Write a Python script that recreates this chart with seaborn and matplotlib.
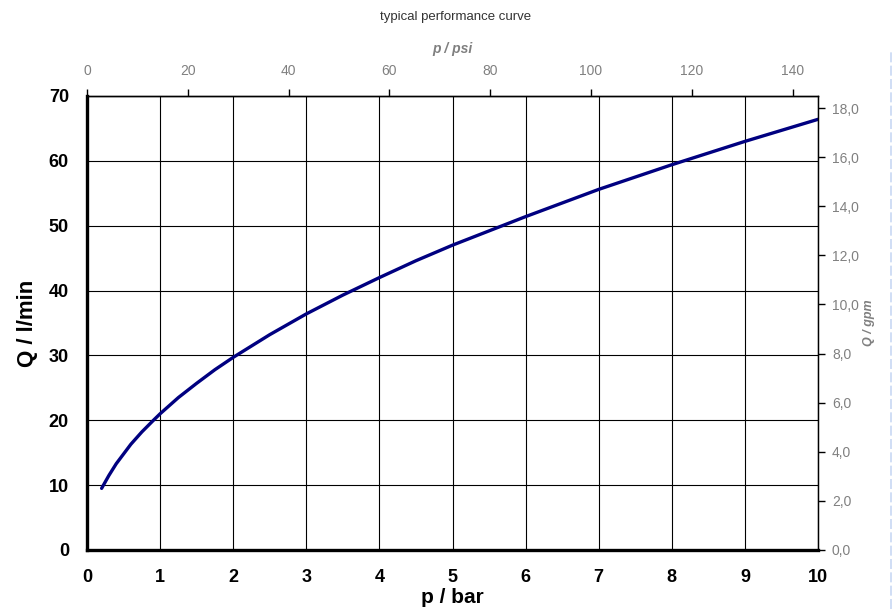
import seaborn as sns
import matplotlib.pyplot as plt
import pandas as pd
from matplotlib.ticker import MultipleLocator, FixedLocator, FuncFormatter
from matplotlib.lines import Line2D

sns.set_style('white')
plt.rcParams['font.family'] = ['Liberation Sans', 'DejaVu Sans']

# values
p_bar = [0.2, 0.25, 0.3, 0.4, 0.5, 0.6, 0.75, 0.9, 1.0, 1.25, 1.5, 1.75, 2.0, 2.5, 3.0, 3.5, 4.0,
         4.5, 5.0, 6.0, 7.0, 8.0, 9.0, 10.0]
q_lmin = [9.5, 10.5, 11.5, 13.3, 14.8, 16.3, 18.2, 19.9, 21.0, 23.5, 25.7, 27.8, 29.7, 33.2, 36.4,
          39.3, 42.0, 44.6, 47.0, 51.4, 55.6, 59.4, 63.0, 66.4]

psi_ticks = [0, 20, 40, 60, 80, 100, 120, 140]
gpm_ticks = [0, 2, 4, 6, 8, 10, 12, 14, 16, 18]

df = pd.DataFrame({'p': p_bar, 'Q': q_lmin})

BAR2PSI = 14.5038
LMIN2GPM = 1 / 3.78541
grey = '#808080'

fig = plt.figure(figsize=(8.95, 6.09), dpi=100)
ax = fig.add_axes([0.0972, 0.0969, 0.8168, 0.7455])

sns.lineplot(data=df, x='p', y='Q', color='#000080', linewidth=2.4, ax=ax)

ax.set_xlim(0, 10)
ax.set_ylim(0, 70)
ax.xaxis.set_major_locator(MultipleLocator(1))
ax.xaxis.set_minor_locator(MultipleLocator(0.5))
ax.yaxis.set_major_locator(MultipleLocator(10))
ax.yaxis.set_minor_locator(MultipleLocator(5))
ax.grid(True, which='major', color='black', linewidth=0.8)

ax.tick_params(axis='x', which='both', direction='out', length=5, width=2.2, color='black')
ax.tick_params(axis='y', which='major', direction='out', length=8, width=2.2, color='black')
ax.tick_params(axis='y', which='minor', direction='out', length=5, width=2.2, color='black')
ax.tick_params(axis='both', which='major', labelsize=13, labelcolor='black')
ax.tick_params(axis='x', which='major', pad=9)
ax.tick_params(axis='y', which='major', pad=5)
for lab in ax.get_xticklabels() + ax.get_yticklabels():
    lab.set_fontweight('bold')

for s in ['left', 'bottom']:
    ax.spines[s].set_linewidth(2.4)
for s in ['top', 'right']:
    ax.spines[s].set_linewidth(1.0)
for s in ax.spines.values():
    s.set_color('black')

ax.set_xlabel('p / bar', fontsize=15, fontweight='bold', color='black', labelpad=1)
ax.set_ylabel('Q / l/min', fontsize=16, fontweight='bold', color='black', labelpad=8)

# top axis in psi
top = ax.secondary_xaxis('top', functions=(lambda x: x * BAR2PSI, lambda x: x / BAR2PSI))
top.xaxis.set_major_locator(FixedLocator(psi_ticks))
top.tick_params(direction='out', length=5, width=1, color='black', labelsize=10,
                labelcolor=grey, pad=8)
top.set_xlabel('p / psi', fontsize=10, fontweight='bold', style='italic', color=grey, labelpad=8)
top.spines['top'].set_linewidth(1.0)

# right axis in gpm
right = ax.secondary_yaxis('right', functions=(lambda y: y * LMIN2GPM, lambda y: y / LMIN2GPM))
right.yaxis.set_major_locator(FixedLocator(gpm_ticks))
right.yaxis.set_major_formatter(FuncFormatter(lambda v, pos: f'{v:.1f}'.replace('.', ',')))
right.tick_params(direction='out', length=5, width=1, color='black', labelsize=10,
                  labelcolor=grey, pad=5)
right.set_ylabel('Q / gpm', fontsize=9, fontweight='bold', style='italic', color=grey, labelpad=3)

fig.text(0.5 + 0.009, 0.972, 'typical performance curve', ha='center', va='center',
         fontsize=9.5, color='#333333')

# faint dashed frame edge at the right of the picture
fig.add_artist(Line2D([0.9955, 0.9955], [0.0, 0.92], transform=fig.transFigure,
                      color='#c8d8f4', linewidth=1.2, linestyle=(0, (6, 2))))

fig.savefig('out.png', dpi=100)
